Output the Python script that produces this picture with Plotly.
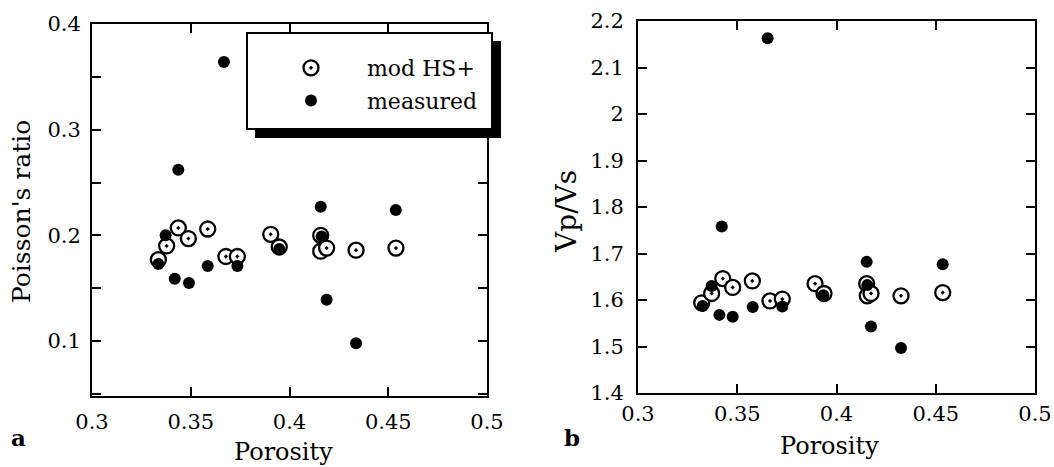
import plotly.graph_objects as go

W, H = 1054, 467

# ---- data: panel a (Poisson's ratio) ----
phi_model_a = [0.3336, 0.3378, 0.3437, 0.3488, 0.3586, 0.3678, 0.3736, 0.3905, 0.3948, 0.4158, 0.4158, 0.4188, 0.4337, 0.4539]
pr_model = [0.177, 0.190, 0.207, 0.197, 0.206, 0.180, 0.180, 0.201, 0.189, 0.200, 0.185, 0.188, 0.186, 0.188]
phi_meas_a = [0.3668, 0.3437, 0.4158, 0.4538, 0.3373, 0.4163, 0.3948, 0.3336, 0.3586, 0.3736, 0.3419, 0.3491, 0.4188, 0.4337]
pr_meas = [0.364, 0.262, 0.227, 0.224, 0.200, 0.199, 0.187, 0.173, 0.171, 0.171, 0.159, 0.155, 0.139, 0.098]

# ---- data: panel b (Vp/Vs) ----
phi_model_b = [0.3321, 0.3371, 0.3427, 0.3477, 0.3576, 0.3665, 0.3727, 0.3892, 0.3937, 0.4152, 0.4155, 0.4174, 0.4325, 0.4535]
vpvs_model = [1.594, 1.614, 1.646, 1.627, 1.641, 1.598, 1.602, 1.635, 1.614, 1.635, 1.609, 1.614, 1.609, 1.616]
phi_meas_b = [0.3653, 0.3422, 0.4152, 0.4535, 0.3371, 0.4155, 0.3934, 0.3326, 0.3578, 0.3727, 0.3410, 0.3477, 0.4174, 0.4325]
vpvs_meas = [2.163, 1.758, 1.682, 1.677, 1.630, 1.632, 1.610, 1.587, 1.585, 1.586, 1.568, 1.564, 1.543, 1.497]

x_ticks = [0.3, 0.35, 0.4, 0.45, 0.5]
x_tick_text = ["0.3", "0.35", "0.4", "0.45", "0.5"]
ya_ticks = [0.1, 0.2, 0.3, 0.4]
ya_tick_text = ["0.1", "0.2", "0.3", "0.4"]
ya_minor = [0.05, 0.15, 0.25, 0.35]
yb_ticks = [1.4, 1.5, 1.6, 1.7, 1.8, 1.9, 2.0, 2.1, 2.2]
yb_tick_text = ["1.4", "1.5", "1.6", "1.7", "1.8", "1.9", "2", "2.1", "2.2"]

FONT = "DejaVu Serif"

def px_x(p):
    return p / W

def px_y(p):
    return 1 - p / H

open_marker = dict(symbol="circle-dot", size=15, color="white", line=dict(color="black", width=2.3))
fill_marker = dict(symbol="circle", size=12, color="black", line=dict(width=0))

fig = go.Figure()
fig.add_trace(go.Scatter(x=phi_model_a, y=pr_model, mode="markers", marker=open_marker,
                         name="mod HS+", legendgroup="g1", xaxis="x", yaxis="y"))
fig.add_trace(go.Scatter(x=phi_meas_a, y=pr_meas, mode="markers", marker=fill_marker,
                         name="measured", legendgroup="g2", xaxis="x", yaxis="y"))
fig.add_trace(go.Scatter(x=phi_model_b, y=vpvs_model, mode="markers", marker=open_marker,
                         name="mod HS+", showlegend=False, xaxis="x2", yaxis="y2"))
fig.add_trace(go.Scatter(x=phi_meas_b, y=vpvs_meas, mode="markers", marker=fill_marker,
                         name="measured", showlegend=False, xaxis="x2", yaxis="y2"))

axis_common = dict(showline=True, linecolor="black", linewidth=2, mirror="ticks",
                   ticks="inside", ticklen=9, tickwidth=1.5, tickcolor="black",
                   showgrid=False, zeroline=False, automargin=False,
                   tickfont=dict(family=FONT, size=21, color="black"))

fig.update_layout(
    width=W, height=H,
    margin=dict(l=0, r=0, t=0, b=0, autoexpand=False),
    paper_bgcolor="white", plot_bgcolor="white",
    xaxis=dict(domain=[px_x(92), px_x(487)], range=[0.3, 0.5], anchor="y",
               tickmode="array", tickvals=x_ticks, ticktext=x_tick_text,
               ticklabelstandoff=6, **axis_common),
    yaxis=dict(domain=[px_y(396), px_y(24)], range=[0.048, 0.4], anchor="x",
               tickmode="array", tickvals=ya_ticks, ticktext=ya_tick_text,
               minor=dict(tickmode="array", tickvals=ya_minor,
                          ticks="inside", ticklen=9, tickcolor="black", tickwidth=1.5),
               ticklabelstandoff=5, **axis_common),
    xaxis2=dict(domain=[px_x(638), px_x(1035)], range=[0.3, 0.5], anchor="y2",
                tickmode="array", tickvals=x_ticks, ticktext=x_tick_text,
                ticklabelstandoff=1, **axis_common),
    yaxis2=dict(domain=[px_y(393), px_y(21)], range=[1.4, 2.2], anchor="x2",
                tickmode="array", tickvals=yb_ticks, ticktext=yb_tick_text,
                ticklabelstandoff=8, **axis_common),
    showlegend=True,
    legend=dict(x=px_x(255), y=px_y(47), xanchor="left", yanchor="top",
                bgcolor="rgba(0,0,0,0)", borderwidth=0,
                font=dict(family=FONT, size=22, color="black"),
                itemwidth=102, traceorder="grouped", tracegroupgap=1),
    shapes=[
        dict(type="rect", xref="paper", yref="paper", layer="above",
             x0=px_x(255), x1=px_x(501), y0=px_y(138), y1=px_y(41),
             fillcolor="black", line=dict(width=0)),
        dict(type="rect", xref="paper", yref="paper", layer="above",
             x0=px_x(247), x1=px_x(492), y0=px_y(129), y1=px_y(33),
             fillcolor="white", line=dict(color="black", width=2)),
    ],
    annotations=[
        dict(text="Porosity", xref="paper", yref="paper", x=px_x(283), y=px_y(452),
             xanchor="center", yanchor="middle", showarrow=False,
             font=dict(family=FONT, size=24, color="black")),
        dict(text="Porosity", xref="paper", yref="paper", x=px_x(829), y=px_y(446),
             xanchor="center", yanchor="middle", showarrow=False,
             font=dict(family=FONT, size=24, color="black")),
        dict(text="Poisson's ratio", xref="paper", yref="paper", x=px_x(21), y=px_y(212),
             xanchor="center", yanchor="middle", showarrow=False, textangle=-90,
             font=dict(family=FONT, size=25, color="black")),
        dict(text="Vp/Vs", xref="paper", yref="paper", x=px_x(566), y=px_y(212),
             xanchor="center", yanchor="middle", showarrow=False, textangle=-90,
             font=dict(family=FONT, size=28, color="black")),
        dict(text="<b>a</b>", xref="paper", yref="paper", x=px_x(18), y=px_y(437),
             xanchor="center", yanchor="middle", showarrow=False,
             font=dict(family=FONT, size=23, color="black")),
        dict(text="<b>b</b>", xref="paper", yref="paper", x=px_x(572), y=px_y(437),
             xanchor="center", yanchor="middle", showarrow=False,
             font=dict(family=FONT, size=23, color="black")),
    ],
)

fig.write_html("out.html")
